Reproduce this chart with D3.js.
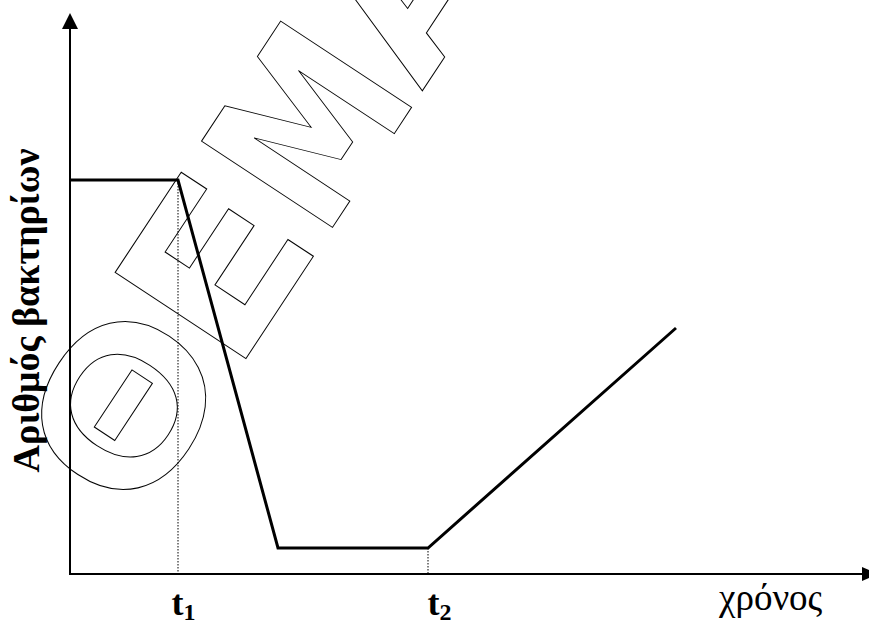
<!DOCTYPE html>
<html>
<head>
<meta charset="utf-8">
<script src="https://cdn.jsdelivr.net/npm/d3@7"></script>
<style>
  html, body { margin: 0; padding: 0; background: #fff; }
  svg { display: block; }
</style>
</head>
<body>
<svg id="chart" width="869" height="623"></svg>
<script>
// ---- data ----
const times = [0, 1.08, 2.08, 3.58, 6.06];        // time (arbitrary units)
const counts = [3.94, 3.94, 0.26, 0.26, 2.46];     // bacteria count (arbitrary units)
const markTimes = [1.08, 3.58];                    // t1, t2
const markLabels = ["1", "2"];                     // subscripts of t
const yLabel = "Αριθμός βακτηρίων";
const xLabel = "χρόνος";
const watermarkLetters = ["Θ", "Ε", "Μ", "Α"];
const watermarkOffsets = [-363, -185.7, -23.2, 155.5];   // position along the slanted baseline
const watermarkStretch = [1.085, 1.1, 0.825, 1];
const watermarkFonts = ["Liberation Sans", "DejaVu Sans", "DejaVu Sans", "DejaVu Sans"];
const watermarkSizes = [220, 215, 215, 215];

const svg = d3.select("#chart");
const x = d3.scaleLinear().domain([0, 8]).range([70, 870]);
const y = d3.scaleLinear().domain([0, 5.6]).range([574, 14]);

// watermark (outlined letters on a slanted baseline)
const ang = -56.6, rad = ang * Math.PI / 180;
const dir = [Math.cos(rad), Math.sin(rad)];
const up = [Math.sin(rad), -Math.cos(rad)];
const base = -402.7;
const wm = svg.append("g");
watermarkLetters.forEach((ch, i) => {
  const b = watermarkOffsets[i];
  const px = b * dir[0] + base * up[0];
  const py = b * dir[1] + base * up[1];
  wm.append("text")
    .attr("transform", `translate(${px},${py}) rotate(${ang}) scale(${watermarkStretch[i]},1)`)
    .attr("font-family", watermarkFonts[i] + ", sans-serif")
    .attr("font-weight", "bold")
    .attr("font-size", watermarkSizes[i])
    .attr("fill", "none")
    .attr("stroke", "#000")
    .attr("stroke-width", 1)
    .text(ch);
});

// dotted guide lines
const pts = times.map((t, i) => ({ t, c: counts[i] }));
markTimes.forEach(t => {
  const p = pts.find(d => d.t === t);
  svg.append("line")
    .attr("x1", x(t)).attr("x2", x(t))
    .attr("y1", y(p.c)).attr("y2", y(0))
    .attr("stroke", "#000").attr("stroke-width", 1)
    .attr("stroke-dasharray", "1.5,1.5");
});

// axes
svg.append("line").attr("x1", x(0)).attr("x2", x(0))
  .attr("y1", y(0) + 1).attr("y2", y(5.6) + 14)
  .attr("stroke", "#000").attr("stroke-width", 2);
svg.append("path")
  .attr("d", `M${x(0)},${y(5.6) - 1} L${x(0) - 8},${y(5.6) + 15} L${x(0) + 8},${y(5.6) + 15} Z`)
  .attr("fill", "#000");
svg.append("line").attr("x1", x(0) - 1).attr("x2", x(7.92))
  .attr("y1", y(0)).attr("y2", y(0))
  .attr("stroke", "#000").attr("stroke-width", 2);
svg.append("path")
  .attr("d", `M${x(7.92) + 16},${y(0)} L${x(7.92)},${y(0) - 7} L${x(7.92)},${y(0) + 7} Z`)
  .attr("fill", "#000");

// curve
const line = d3.line().x(d => x(d.t)).y(d => y(d.c));
svg.append("path").datum(pts)
  .attr("d", line)
  .attr("fill", "none").attr("stroke", "#000")
  .attr("stroke-width", 3).attr("stroke-linejoin", "miter");

// t labels
markTimes.forEach((t, i) => {
  const tx = svg.append("text")
    .attr("x", x(t) - (i === 0 ? 6.5 : 0.5)).attr("y", 615)
    .attr("font-family", "Liberation Serif, Times New Roman, serif")
    .attr("font-weight", "bold").attr("font-size", 36);
  tx.append("tspan").text("t");
  tx.append("tspan").attr("font-size", 24).attr("dy", 5).text(markLabels[i]);
});

// x label
svg.append("text")
  .attr("x", 719).attr("y", 610)
  .attr("font-family", "Liberation Serif, Times New Roman, serif")
  .attr("font-size", 37)
  .text(xLabel);

// y label
svg.append("text")
  .attr("transform", "translate(39,310.5) rotate(-90)")
  .attr("text-anchor", "middle")
  .attr("font-family", "Liberation Serif, Times New Roman, serif")
  .attr("font-weight", "bold").attr("font-size", 38)
  .text(yLabel);
</script>
</body>
</html>
